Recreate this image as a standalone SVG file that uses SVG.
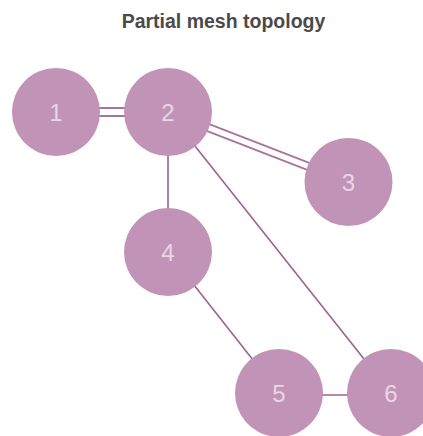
<svg xmlns="http://www.w3.org/2000/svg" width="423" height="436" viewBox="0 0 423 436">
<style>
.title{font-family:"Liberation Sans",Arial,sans-serif;font-weight:bold;font-size:19.5px;fill:#4a4a4a}
.node circle{fill:#c194b7}
.node text{font-family:"Liberation Sans",Arial,sans-serif;font-size:24px;fill:#e9d5e6;text-anchor:middle}
.edge{stroke:#9e6096;stroke-width:1.6;fill:none}
.dbl{stroke:#a8739f;stroke-width:1.8;fill:none}
</style>
<rect width="423" height="436" fill="#ffffff"/>
<text class="title" x="223.5" y="28" text-anchor="middle">Partial mesh topology</text>
<g id="connectors">
<line class="dbl" x1="56" y1="108" x2="168" y2="108"/>
<line class="dbl" x1="56" y1="116" x2="168" y2="116"/>
<line class="dbl" x1="166.7" y1="115.3" x2="347.2" y2="185.3"/>
<line class="dbl" x1="169.3" y1="108.7" x2="349.8" y2="178.7"/>
<line class="edge" x1="168" y1="112" x2="168" y2="252"/>
<line class="edge" x1="168" y1="112" x2="391" y2="393"/>
<line class="edge" x1="168" y1="252" x2="279" y2="393"/>
<line class="edge" x1="279" y1="395" x2="391" y2="395"/>
</g>
<g id="node1" class="node"><circle cx="56" cy="112" r="44"/><text x="56" y="121">1</text></g>
<g id="node2" class="node"><circle cx="168" cy="112" r="44"/><text x="168" y="121">2</text></g>
<g id="node3" class="node"><circle cx="348.5" cy="182" r="44"/><text x="348.5" y="191">3</text></g>
<g id="node4" class="node"><circle cx="168" cy="252" r="44"/><text x="168" y="261">4</text></g>
<g id="node5" class="node"><circle cx="279" cy="393" r="44"/><text x="279" y="402">5</text></g>
<g id="node6" class="node"><circle cx="391" cy="393" r="44"/><text x="391" y="402">6</text></g>
</svg>
